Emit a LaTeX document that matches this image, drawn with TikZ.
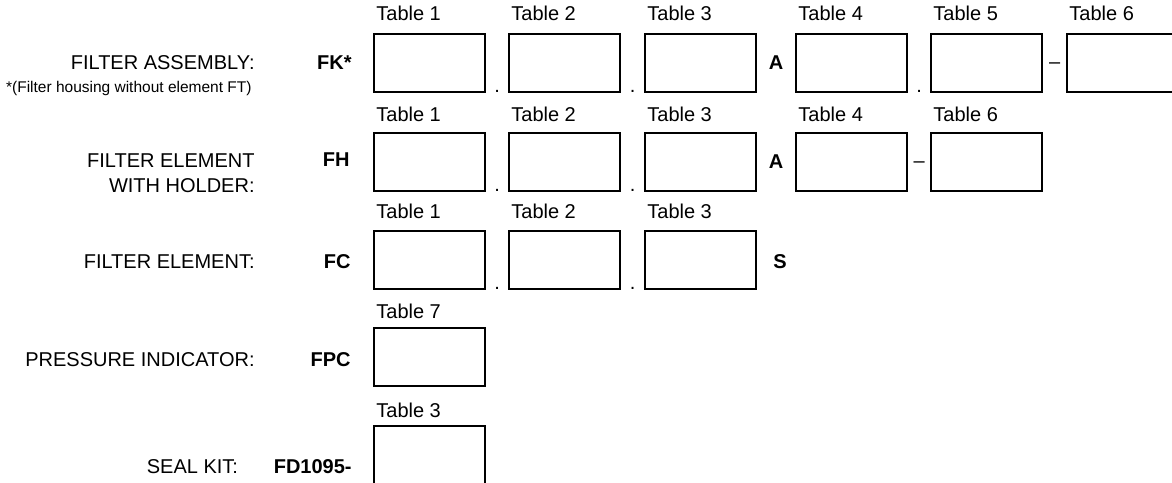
\documentclass[tikz,border=0pt]{standalone}
\usepackage{fontspec}
\setmainfont{Liberation Sans}
\usetikzlibrary{positioning,calc}

\tikzset{
  fieldbox/.style={draw,line width=1.1pt,anchor=north west,inner sep=0pt,
    minimum width=55.5pt,minimum height=29pt},
  tablab/.style={anchor=base west,inner sep=0pt},
  rowlab/.style={anchor=east,inner sep=0pt,align=right},
  code/.style={anchor=east,inner sep=0pt,font=\bfseries},
  sepdot/.style={anchor=base,inner sep=0pt},
  sepdash/.style={anchor=base,inner sep=0pt},
  seplet/.style={inner sep=0pt,font=\bfseries},
}

\begin{document}
\begin{tikzpicture}[x=0.5pt,y=-0.5pt,font=\fontsize{10}{12.5}\selectfont]
  \useasboundingbox (0,0) rectangle (1172,482);

  % filter assembly
  \foreach \x/\t in {373/1,508/2,644/3,795/4,930/5,1066/6}{
    \node[fieldbox] (fa\t) at (\x,33) {};
    \node[tablab] at (\x+3,20) {Table \t};
  }
  \node[sepdot] at ($(fa1.south east)!.5!(fa2.south west)+(0,-1)$) {.};
  \node[sepdot] at ($(fa2.south east)!.5!(fa3.south west)+(0,-1)$) {.};
  \node[seplet] at ($(fa3.east)!.5!(fa4.west)$) {A};
  \node[sepdot] at ($(fa4.south east)!.5!(fa5.south west)+(0,-1)$) {.};
  \node[sepdash] at ($(fa5.east)!.5!(fa6.west)+(0,5.5)$) {\textendash};
  \node[rowlab] (falab) at (255,63) {FILTER ASSEMBLY:};
  \node[rowlab,font=\fontsize{7.75}{9}\selectfont] (fanote) at (252,88)
    {*(Filter housing without element FT)};
  \node[code] (fk) at (352,63) {FK*};

  % filter element with holder
  \foreach \x/\t/\n in {373/1/1,508/2/2,644/3/3,795/4/4,930/6/5}{
    \node[fieldbox] (fh\n) at (\x,132) {};
    \node[tablab] at (\x+3,121) {Table \t};
  }
  \node[sepdot] at ($(fh1.south east)!.5!(fh2.south west)+(0,-1)$) {.};
  \node[sepdot] at ($(fh2.south east)!.5!(fh3.south west)+(0,-1)$) {.};
  \node[seplet] at ($(fh3.east)!.5!(fh4.west)$) {A};
  \node[sepdash] at ($(fh4.east)!.5!(fh5.west)+(0,5.5)$) {\textendash};
  \node[rowlab,anchor=north east] (fhlab) at (255,153) {FILTER ELEMENT\\WITH HOLDER:};
  \node[code] (fh) at (350,160) {FH};

  % filter element
  \foreach \x/\t in {373/1,508/2,644/3}{
    \node[fieldbox] (fc\t) at (\x,230) {};
    \node[tablab] at (\x+3,218) {Table \t};
  }
  \node[sepdot] at ($(fc1.south east)!.5!(fc2.south west)+(0,-1)$) {.};
  \node[sepdot] at ($(fc2.south east)!.5!(fc3.south west)+(0,-1)$) {.};
  \node[seplet,anchor=west] at (773,262) {S};
  \node[rowlab] (fclab) at (255,262) {FILTER ELEMENT:};
  \node[code] (fc) at (351,262) {FC};

  % pressure indicator
  \node[fieldbox] (fpc1) at (373,327) {};
  \node[tablab] at (376,318) {Table 7};
  \node[rowlab] (fpclab) at (255,360) {PRESSURE INDICATOR:};
  \node[code] (fpc) at (351,360) {FPC};

  % seal kit
  \node[fieldbox] (sk1) at (373,425) {};
  \node[tablab] at (376,417) {Table 3};
  \node[code] (fd) at (352,467) {FD1095-};
  \node[rowlab,left=17.5pt of fd] (sklab) {SEAL KIT:};
\end{tikzpicture}
\end{document}
